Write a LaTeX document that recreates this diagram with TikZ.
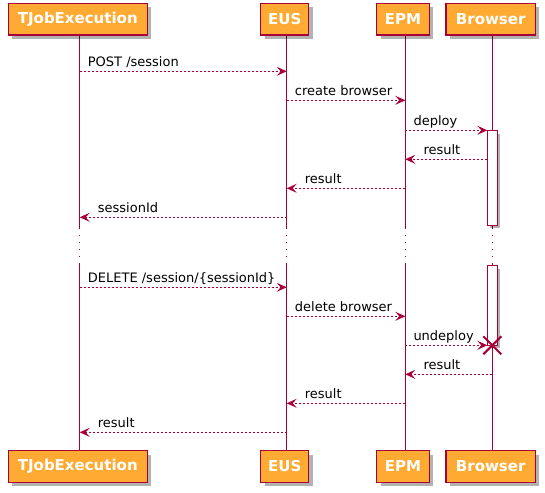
\documentclass[tikz,border=0pt]{standalone}
\usepackage{fontspec}
\setmainfont{DejaVu Sans}
\usetikzlibrary{arrows.meta,shadows}
\definecolor{pborder}{HTML}{A80036}
\definecolor{pfill}{HTML}{FFAA33}
\tikzset{
  part/.style={draw=pborder, line width=1.3pt, fill=pfill, text=white,
    font=\bfseries\fontsize{15}{18}\selectfont, minimum height=31.7pt, inner sep=0pt,
    drop shadow={shadow xshift=4pt, shadow yshift=-4pt, fill=black, opacity=0.3}},
  life/.style={draw=pborder, line width=1pt},
  delayline/.style={draw=pborder, line width=1pt, dash pattern=on 1pt off 6pt},
  msg/.style={draw=pborder, line width=1pt, dash pattern=on 2pt off 2pt,
    -{Stealth[length=10pt,width=9pt,inset=4pt]}},
  lbl/.style={font=\fontsize{13}{15}\selectfont, inner sep=0pt, anchor=base west},
  actbar/.style={draw=pborder, line width=1pt, fill=white,
    drop shadow={shadow xshift=3pt, shadow yshift=-3pt, fill=black, opacity=0.3}},
}
\begin{document}
\begin{tikzpicture}[x=1pt,y=-1pt]
\useasboundingbox (0,0) rectangle (545,492);
% lifeline x: 79.7, 286.7, 405.3, 492.3
% lifelines
\foreach \lx/\nm in {79.7/a,286.7/b,405.3/c,492.3/d}{
  \coordinate (\nm top) at (\lx,35);
  \coordinate (\nm d1) at (\lx,228);
  \coordinate (\nm d2) at (\lx,263);
  \coordinate (\nm bot) at (\lx,450.7);
  \draw[life] (\nm top) -- (\nm d1);
  \draw[delayline] (\nm d1) -- (\nm d2);
  \draw[life] (\nm d2) -- (\nm bot);
}
% participants top
\node[part, minimum width=139pt] (tjT) at (77.8,19.2) {TJobExecution};
\node[part, minimum width=48pt] (eusT) at (284.7,19.2) {EUS};
\node[part, minimum width=52.6pt] (epmT) at (403,19.2) {EPM};
\node[part, minimum width=89.3pt] (brT) at (490.7,19.2) {Browser};
% participants bottom
\node[part, minimum width=139pt] (tjB) at (77.8,466.5) {TJobExecution};
\node[part, minimum width=48pt] (eusB) at (284.7,466.5) {EUS};
\node[part, minimum width=52.6pt] (epmB) at (403,466.5) {EPM};
\node[part, minimum width=89.3pt] (brB) at (490.7,466.5) {Browser};
% activation bars
\path[actbar] (487.3,130.7) rectangle (497.3,225.3);
\path[actbar] (487.3,265.7) rectangle (497.3,345.3);
% message end points
\coordinate (m1a) at (79.7,71.3);   \coordinate (m1b) at (286.7,71.3);
\coordinate (m2a) at (286.7,100.3); \coordinate (m2b) at (405.3,100.3);
\coordinate (m3a) at (405.3,130.3); \coordinate (m3b) at (487.3,130.3);
\coordinate (m4a) at (487.3,159.3); \coordinate (m4b) at (405.3,159.3);
\coordinate (m5a) at (405.3,188.3); \coordinate (m5b) at (286.7,188.3);
\coordinate (m6a) at (286.7,217.3); \coordinate (m6b) at (79.7,217.3);
\coordinate (m7a) at (79.7,287.3);  \coordinate (m7b) at (286.7,287.3);
\coordinate (m8a) at (286.7,316.3); \coordinate (m8b) at (405.3,316.3);
\coordinate (m9a) at (405.3,345.3); \coordinate (m9b) at (487.3,345.3);
\coordinate (m10a) at (492.3,374.3); \coordinate (m10b) at (405.3,374.3);
\coordinate (m11a) at (405.3,403.3); \coordinate (m11b) at (286.7,403.3);
\coordinate (m12a) at (286.7,432.3); \coordinate (m12b) at (79.7,432.3);
% messages
\draw[msg] (m1a) -- (m1b);
\node[lbl] (l1) at ([xshift=8pt,yshift=5pt]m1a) {POST /session};
\draw[msg] (m2a) -- (m2b);
\node[lbl] (l2) at ([xshift=8pt,yshift=5pt]m2a) {create browser};
\draw[msg] (m3a) -- (m3b);
\node[lbl] (l3) at ([xshift=8pt,yshift=5pt]m3a) {deploy};
\draw[msg] (m4a) -- (m4b);
\node[lbl] (l4) at ([xshift=18pt,yshift=5pt]m4b) {result};
\draw[msg] (m5a) -- (m5b);
\node[lbl] (l5) at ([xshift=18pt,yshift=5pt]m5b) {result};
\draw[msg] (m6a) -- (m6b);
\node[lbl] (l6) at ([xshift=18pt,yshift=5pt]m6b) {sessionId};
\draw[msg] (m7a) -- (m7b);
\node[lbl] (l7) at ([xshift=8pt,yshift=5pt]m7a) {DELETE /session/\{sessionId\}};
\draw[msg] (m8a) -- (m8b);
\node[lbl] (l8) at ([xshift=8pt,yshift=5pt]m8a) {delete browser};
\draw[msg] (m9a) -- (m9b);
\node[lbl] (l9) at ([xshift=8pt,yshift=5pt]m9a) {undeploy};
\draw[msg] (m10a) -- (m10b);
\node[lbl] (l10) at ([xshift=18pt,yshift=5pt]m10b) {result};
\draw[msg] (m11a) -- (m11b);
\node[lbl] (l11) at ([xshift=18pt,yshift=5pt]m11b) {result};
\draw[msg] (m12a) -- (m12b);
\node[lbl] (l12) at ([xshift=18pt,yshift=5pt]m12b) {result};
% destroy mark
\coordinate (xd) at (492.3,345.3);
\draw[pborder, line width=2pt] (xd) +(-9,-9) -- +(9,9);
\draw[pborder, line width=2pt] (xd) +(-9,9) -- +(9,-9);
\end{tikzpicture}
\end{document}
